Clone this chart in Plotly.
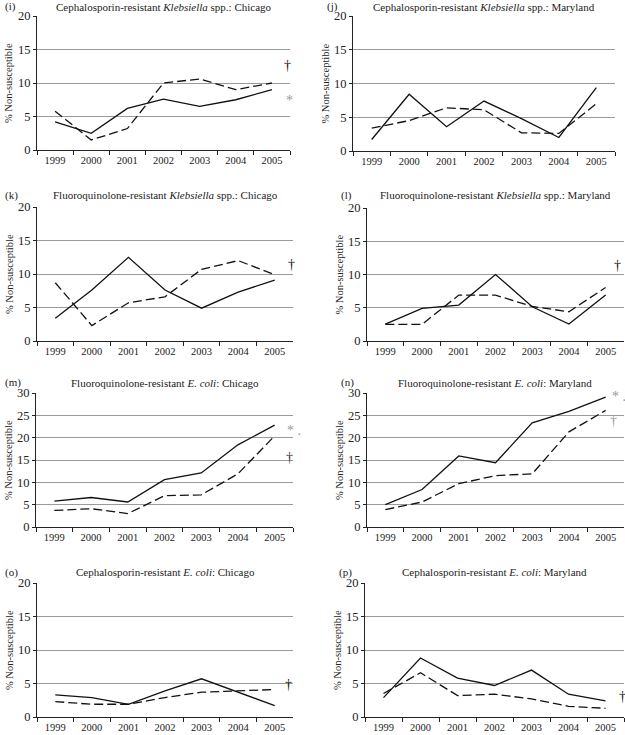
import plotly.graph_objects as go

W, H = 625, 735

years = ["1999", "2000", "2001", "2002", "2003", "2004", "2005"]

# panel (i) Cephalosporin-resistant Klebsiella, Chicago
i_solid = [4.2, 2.5, 6.2, 7.6, 6.5, 7.5, 9.0]
i_dash = [5.8, 1.5, 3.2, 10.0, 10.6, 9.0, 10.0]
# panel (j) Cephalosporin-resistant Klebsiella, Maryland
j_solid = [1.7, 8.4, 3.6, 7.4, 4.8, 2.0, 9.4]
j_dash = [3.4, 4.5, 6.4, 6.1, 2.7, 2.6, 7.0]
# panel (k) Fluoroquinolone-resistant Klebsiella, Chicago
k_solid = [3.4, 7.6, 12.5, 7.6, 4.9, 7.3, 9.1]
k_dash = [8.7, 2.3, 5.7, 6.6, 10.7, 12.0, 9.9]
# panel (l) Fluoroquinolone-resistant Klebsiella, Maryland
l_solid = [2.55, 4.9, 5.4, 10.0, 5.15, 2.55, 6.9]
l_dash = [2.5, 2.5, 6.9, 6.9, 5.2, 4.4, 8.05]
# panel (m) Fluoroquinolone-resistant E. coli, Chicago
m_solid = [5.8, 6.6, 5.6, 10.6, 12.1, 18.4, 22.8]
m_dash = [3.7, 4.1, 3.0, 7.0, 7.2, 11.9, 20.4]
# panel (n) Fluoroquinolone-resistant E. coli, Maryland
n_solid = [5.0, 8.4, 15.9, 14.4, 23.3, 25.9, 29.1]
n_dash = [3.9, 5.6, 9.7, 11.5, 11.9, 21.3, 26.1]
# panel (o) Cephalosporin-resistant E. coli, Chicago
o_solid = [3.3, 2.9, 1.9, 3.9, 5.7, 3.7, 1.7]
o_dash = [2.3, 1.9, 1.9, 2.9, 3.7, 3.9, 4.1]
# panel (p) Cephalosporin-resistant E. coli, Maryland
p_solid = [2.9, 8.8, 5.8, 4.7, 7.0, 3.4, 2.4]
p_dash = [3.5, 6.6, 3.2, 3.4, 2.7, 1.6, 1.3]

titles = [
    "Cephalosporin-resistant <i>Klebsiella</i> spp.: Chicago",
    "Cephalosporin-resistant <i>Klebsiella</i> spp.: Maryland",
    "Fluoroquinolone-resistant <i>Klebsiella</i> spp.: Chicago",
    "Fluoroquinolone-resistant <i>Klebsiella</i> spp.: Maryland",
    "Fluoroquinolone-resistant <i>E. coli</i>: Chicago",
    "Fluoroquinolone-resistant <i>E. coli</i>: Maryland",
    "Cephalosporin-resistant <i>E. coli</i>: Chicago",
    "Cephalosporin-resistant <i>E. coli</i>: Maryland",
]
labels = ["(i)", "(j)", "(k)", "(l)", "(m)", "(n)", "(o)", "(p)"]
solids = [i_solid, j_solid, k_solid, l_solid, m_solid, n_solid, o_solid, p_solid]
dashes = [i_dash, j_dash, k_dash, l_dash, m_dash, n_dash, o_dash, p_dash]
ymax = [20, 20, 20, 20, 30, 30, 20, 20]

# plot boxes in pixels: left, right, top, bottom, title centre y
boxes = [
    (37, 290, 16, 150, 7), (353, 615, 16, 151, 7),
    (37, 293, 207, 341, 195), (367, 624, 208, 341, 195),
    (36, 293, 393, 527, 383), (367, 624, 393, 527, 383),
    (37, 293, 583, 717, 572), (365, 624, 583, 717, 572),
]
# significance marks: (panel, x index, y value, text, colour)
marks = [
    (0, 6.29, 12.6, "†", "#111"), (0, 6.33, 7.4, "*", "#999"),
    (2, 6.3, 11.4, "†", "#111"),
    (3, 6.18, 11.4, "†", "#111"),
    (4, 6.28, 21.5, "* .", "#999"), (4, 6.25, 15.6, "†", "#333"),
    (5, 6.13, 29.3, "* .", "#999"), (5, 6.07, 23.9, "†", "#999"),
    (6, 6.22, 4.9, "†", "#111"),
    (7, 6.3, 3.1, "†", "#111"),
]

FONT = "Liberation Serif"
fig = go.Figure()
annotations = []

for n in range(8):
    l, r, t, b, ty = boxes[n]
    ax = "" if n == 0 else str(n + 1)
    xa, ya = "x" + ax, "y" + ax
    fig.add_trace(go.Scatter(x=years, y=solids[n], mode="lines", xaxis=xa, yaxis=ya,
                             line=dict(color="#111", width=1.3), showlegend=False))
    fig.add_trace(go.Scatter(x=years, y=dashes[n], mode="lines", xaxis=xa, yaxis=ya,
                             line=dict(color="#111", width=1.3, dash="9px,4px"), showlegend=False))
    fig.update_layout(**{
        "xaxis" + ax: dict(domain=[l / W, r / W], anchor=ya, type="category",
                           range=[-0.5, 6.5], tickson="boundaries", ticks="outside",
                           ticklen=4, tickcolor="#222", automargin=False,
                           showline=True, linecolor="#222", linewidth=1, showgrid=False,
                           tickfont=dict(family=FONT, size=10.5, color="#222")),
        "yaxis" + ax: dict(domain=[1 - b / H, 1 - t / H], anchor=xa, range=[0, ymax[n]],
                           dtick=5, ticks="outside", ticklen=3, tickcolor="#222",
                           showline=True, linecolor="#222", linewidth=1, automargin=False,
                           gridcolor="#9a9a9a", gridwidth=1, zeroline=False,
                           tickfont=dict(family=FONT, size=12.5, color="#222")),
    })
    # title
    annotations.append(dict(x=(l + r) / 2 / W, y=1 - ty / H, xref="paper", yref="paper",
                            text=titles[n], showarrow=False, xanchor="center", yanchor="middle",
                            font=dict(family=FONT, size=11, color="#222")))
    # panel label
    lx = 3 if n % 2 == 0 else (l - 28)
    annotations.append(dict(x=lx / W, y=1 - ty / H, xref="paper", yref="paper",
                            text=labels[n], showarrow=False, xanchor="left", yanchor="middle",
                            font=dict(family=FONT, size=11, color="#222")))
    # y-axis title
    annotations.append(dict(x=(l - 28) / W, y=1 - (t + b) / 2 / H, xref="paper", yref="paper",
                            text="% Non-susceptible", showarrow=False, textangle=-90,
                            xanchor="center", yanchor="middle",
                            font=dict(family=FONT, size=10.5, color="#222")))

for n, xi, yv, txt, col in marks:
    ax = "" if n == 0 else str(n + 1)
    annotations.append(dict(x=xi, y=yv, xref="x" + ax, yref="y" + ax, text=txt,
                            showarrow=False, xanchor="left", yanchor="middle",
                            font=dict(family=FONT, size=14, color=col)))

fig.update_layout(width=W, height=H, margin=dict(l=0, r=0, t=0, b=0),
                  paper_bgcolor="white", plot_bgcolor="white", annotations=annotations)

# drop the default body margin so the figure sits at the page corner
fig.write_html("out.html", config={"displayModeBar": False},
               post_script="document.body.style.margin = '0';")
